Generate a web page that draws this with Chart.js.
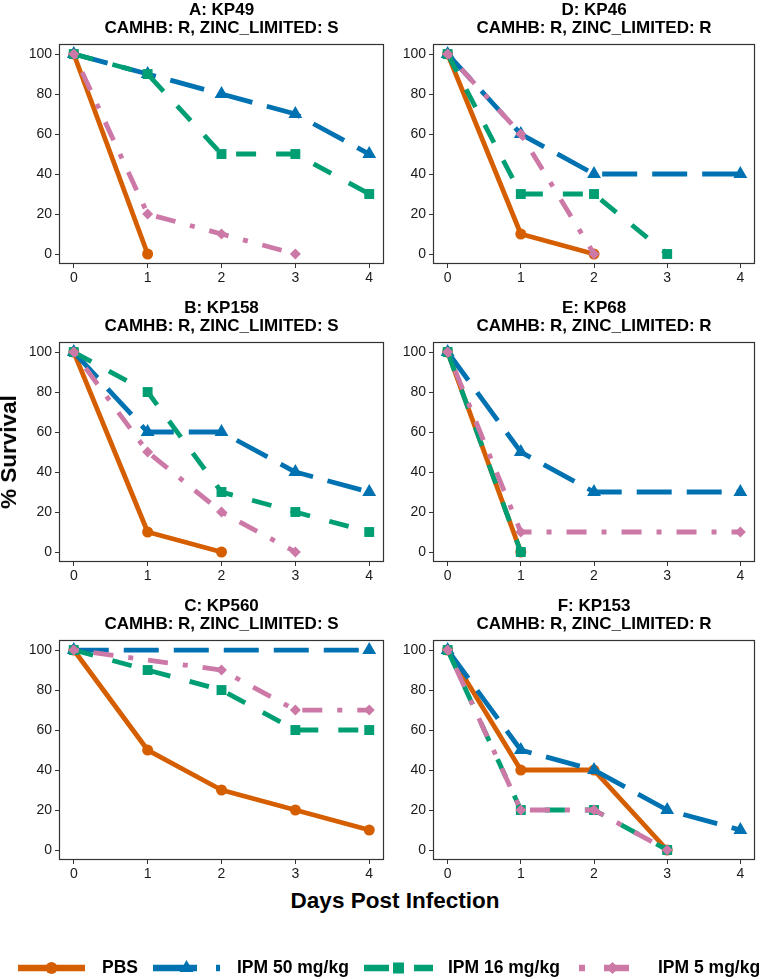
<!DOCTYPE html>
<html>
<head>
<meta charset="utf-8">
<script src="https://cdn.jsdelivr.net/npm/chart.js@4.4.1/dist/chart.umd.min.js"></script>
<style>
  body { margin: 0; background: #fff; width: 763px; height: 979px; position: relative; overflow: hidden;
         font-family: "Liberation Sans", Arial, sans-serif; }
  canvas { position: absolute; }
  .axis-title { position: absolute; font-weight: bold; font-size: 22.5px; color: #000; white-space: nowrap; }
  #ytitle { left: 9px; top: 452px; transform: translate(-50%, -50%) rotate(-90deg); }
  #xtitle { left: 395px; top: 901px; transform: translate(-50%, -50%); }
</style>
</head>
<body>
<div id="panels"></div>
<div class="axis-title" id="ytitle">% Survival</div>
<div class="axis-title" id="xtitle">Days Post Infection</div>
<canvas id="legend" width="763" height="40" style="left:0;top:948px"></canvas>

<script>
// days post infection and axis ticks
const days = [0, 1, 2, 3, 4];
const yTicks = [0, 20, 40, 60, 80, 100];

// series names
const seriesNames = ['PBS', 'IPM 50 mg/kg', 'IPM 16 mg/kg', 'IPM 5 mg/kg'];

// panel titles
const panelTitles = [
  ['A: KP49', 'CAMHB: R, ZINC_LIMITED: S'],
  ['B: KP158', 'CAMHB: R, ZINC_LIMITED: S'],
  ['C: KP560', 'CAMHB: R, ZINC_LIMITED: S'],
  ['D: KP46', 'CAMHB: R, ZINC_LIMITED: R'],
  ['E: KP68', 'CAMHB: R, ZINC_LIMITED: R'],
  ['F: KP153', 'CAMHB: R, ZINC_LIMITED: R']
];

// % survival per day (null = no point that day), order A..F
const pbs = [
  [100, 0, null, null, null],
  [100, 10, 0, null, null],
  [100, 50, 30, 20, 10],
  [100, 10, 0, null, null],
  [100, 0, null, null, null],
  [100, 40, 40, 0, null]
];
const ipm50 = [
  [100, 90, 80, 70, 50],
  [100, 60, 60, 40, 30],
  [100, null, null, null, 100],
  [100, 60, 40, null, 40],
  [100, 50, 30, null, 30],
  [100, 50, 40, 20, 10]
];
const ipm16 = [
  [100, 90, 50, 50, 30],
  [100, 80, 30, 20, 10],
  [100, 90, 80, 60, 60],
  [100, 30, 30, 0, null],
  [100, 0, null, null, null],
  [100, 20, 20, 0, null]
];
const ipm5 = [
  [100, 20, 10, 0, null],
  [100, 50, 20, 0, null],
  [100, null, 90, 70, 70],
  [100, 60, 0, null, null],
  [100, 10, null, null, 10],
  [100, 20, 20, 0, null]
];

const colors = ['#D55E00', '#0072B2', '#009E73', '#CC79A7'];
const dashes = [[], [35, 15], [20, 20], [5, 15, 20, 15]];
const pointStyles = ['circle', 'triangle', 'rect', 'rectRot'];
const pointRadii = [5.5, 8, 7, 5.5];
const FONT = '"Liberation Sans", Arial, sans-serif';

function toPoints(arr) {
  const pts = [];
  arr.forEach((v, i) => { if (v !== null) pts.push({ x: days[i], y: v }); });
  return pts;
}

// dark frame round the plot area
const framePlugin = {
  id: 'frame',
  afterDraw(chart) {
    const a = chart.chartArea, g = chart.ctx;
    g.save();
    g.strokeStyle = '#333';
    g.lineWidth = 1.2;
    g.strokeRect(Math.round(a.left) + 0.5, Math.round(a.top) + 0.5,
                 Math.round(a.width) - 1, Math.round(a.height) - 1);
    g.restore();
  }
};

const holder = document.getElementById('panels');
const allSeries = [pbs, ipm50, ipm16, ipm5];

for (let p = 0; p < 6; p++) {
  const col = Math.floor(p / 3), row = p % 3;
  const cv = document.createElement('canvas');
  const w = col === 0 ? 392 : 389;
  cv.width = w; cv.height = 286;
  cv.style.left = (col === 0 ? 0 : 374) + 'px';
  cv.style.top = (row * 298) + 'px';
  holder.appendChild(cv);

  const datasets = allSeries.map((s, k) => ({
    label: seriesNames[k],
    data: toPoints(s[p]),
    borderColor: colors[k],
    backgroundColor: colors[k],
    borderWidth: 4.8,
    borderDash: dashes[k],
    borderJoinStyle: 'round',
    pointStyle: pointStyles[k],
    pointRadius: pointRadii[k],
    pointBorderWidth: 0,
    pointBackgroundColor: colors[k],
    tension: 0,
    clip: false,
    order: 4 - k
  }));

  new Chart(cv.getContext('2d'), {
    type: 'line',
    data: { datasets },
    options: {
      responsive: false,
      animation: false,
      events: [],
      layout: { padding: { top: 0, right: col === 0 ? 5 : 2, bottom: 0, left: 0 } },
      plugins: {
        legend: { display: false },
        tooltip: { enabled: false },
        title: {
          display: true,
          text: panelTitles[p],
          fullSize: false,
          color: '#000',
          font: { family: FONT, size: 17, weight: 'bold', lineHeight: 1.06 },
          padding: { top: 1, bottom: 7 }
        }
      },
      scales: {
        x: {
          type: 'linear',
          min: -0.2, max: 4.2,
          afterBuildTicks: s => { s.ticks = days.map(v => ({ value: v })); },
          afterFit: s => { s.height = 22; },
          border: { display: false },
          grid: { drawOnChartArea: false, drawTicks: true, tickLength: 4, color: '#333' },
          ticks: { color: '#1a1a1a', padding: 2, font: { family: FONT, size: 14 }, maxRotation: 0 }
        },
        y: {
          min: -5, max: 105,
          afterBuildTicks: s => { s.ticks = yTicks.map(v => ({ value: v })); },
          afterFit: s => { s.width = 59; },
          border: { display: false },
          grid: { drawOnChartArea: false, drawTicks: true, tickLength: 4, color: '#333' },
          ticks: { color: '#1a1a1a', padding: 3, font: { family: FONT, size: 14 } }
        }
      }
    },
    plugins: [framePlugin]
  });
}

// legend, drawn by hand along the bottom
(function drawLegend() {
  const g = document.getElementById('legend').getContext('2d');
  const cy = 20;
  const keys = [
    { x0: 18, x1: 85, tx: 102, dash: [] },
    { x0: 153, x1: 220, tx: 237, dash: [44, 19] },
    { x0: 364, x1: 433, tx: 448, dash: [25, 25] },
    { x0: 579, x1: 646, tx: 658, dash: [6, 19, 25, 19] }
  ];
  keys.forEach((k, i) => {
    g.save();
    g.strokeStyle = colors[i];
    g.fillStyle = colors[i];
    g.lineWidth = 6.5;
    g.lineCap = 'butt';
    g.setLineDash(k.dash);
    g.beginPath(); g.moveTo(k.x0, cy); g.lineTo(k.x1, cy); g.stroke();
    g.setLineDash([]);
    const mx = (k.x0 + k.x1) / 2;
    g.beginPath();
    if (pointStyles[i] === 'circle') {
      g.arc(mx, cy, 6, 0, Math.PI * 2);
    } else if (pointStyles[i] === 'triangle') {
      const r = 8;
      g.moveTo(mx, cy - r);
      g.lineTo(mx + r * 0.866, cy + r * 0.5);
      g.lineTo(mx - r * 0.866, cy + r * 0.5);
      g.closePath();
    } else if (pointStyles[i] === 'rect') {
      g.rect(mx - 5.5, cy - 5.5, 11, 11);
    } else {
      const r = 6;
      g.moveTo(mx, cy - r); g.lineTo(mx + r, cy); g.lineTo(mx, cy + r); g.lineTo(mx - r, cy);
      g.closePath();
    }
    g.fill();
    g.fillStyle = '#000';
    g.font = 'bold 17.5px ' + FONT;
    g.textBaseline = 'middle';
    g.fillText(seriesNames[i], k.tx, cy);
    g.restore();
  });
})();
</script>
</body>
</html>
